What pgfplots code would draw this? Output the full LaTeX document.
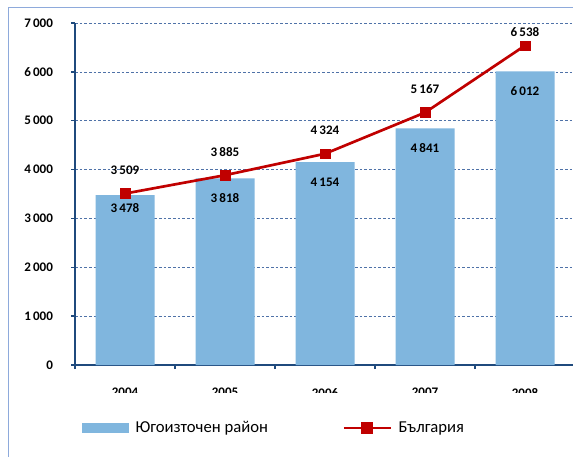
\documentclass[border=0pt]{standalone}
\usepackage{pgfplots}
\pgfplotsset{compat=1.18}
\usepackage{fontspec}
\setmainfont{Carlito}
\definecolor{barblue}{HTML}{80B6DE}
\definecolor{axisblue}{HTML}{1F4A7D}
\definecolor{gridblue}{HTML}{4F72A8}
\definecolor{linered}{HTML}{C00000}
\definecolor{frameblue}{HTML}{8EAADB}
\pgfplotstableread{
x y s
0 3478 -9.75
1 3818 -15
2 4154 -15
3 4841 -15
4 6012 -15
}\barsdata
\pgfplotstableread{
x y s
0 3509 17.25
1 3885 17.25
2 4324 17.25
3 5167 17.25
4 6538 10
}\linedata
\begin{document}
\begin{tikzpicture}
\begin{axis}[
  at={(0pt,0pt)}, anchor=south west,
  scale only axis, width=375pt, height=256.5pt,
  xmin=-0.5, xmax=4.5, ymin=0, ymax=7000,
  axis x line*=bottom, axis y line*=left,
  axis line style={line width=2.2pt, axisblue},
  ytick={0,1000,...,7000},
  xtick={-0.5,0.5,1.5,2.5,3.5,4.5}, xticklabels={},
  extra x ticks={0,1,2,3,4},
  extra x tick labels={2004,2005,2006,2007,2008},
  extra x tick style={major tick length=0pt},
  tick align=outside, major tick length=3pt,
  tick style={axisblue, line width=1pt},
  ymajorgrids,
  grid style={gridblue, line width=0.5pt, dash pattern=on 2pt off 1.5pt},
  /pgf/number format/assume math mode=true,
  /pgf/number format/1000 sep={\,},
  tick label style={font=\fontsize{9.8}{11}\selectfont\bfseries},
  yticklabel style={xshift=-10pt},
  xticklabel style={yshift=-14pt},
  clip=false,
  legend style={at={(0.014,-0.184)}, anchor=west, draw=none, fill=none,
    inner sep=0pt, legend columns=2,
    font=\fontsize{12.5}{14}\selectfont,
    column sep=3pt,
    /tikz/every even column/.append style={column sep=54pt},
    cells={anchor=west}},
]
\addplot[ybar, bar width=44.25pt, fill=barblue, draw=none,
  nodes near coords, point meta=explicit,
  visualization depends on={\thisrow{s}\as\sh},
  every node near coord/.append style={anchor=center, yshift=\sh pt,
    text=black, font=\fontsize{9.8}{11}\selectfont\bfseries},
  legend image code/.code={\fill[barblue] (0pt,-4pt) rectangle (35pt,4pt);}]
  table[x=x, y=y, meta=y] {\barsdata};
\addlegendentry{Югоизточен район}
\addplot[linered, line width=2pt, mark=square*, mark size=3.6pt,
  mark options={solid, fill=linered, line width=0.4pt},
  nodes near coords, point meta=explicit,
  visualization depends on={\thisrow{s}\as\sh},
  every node near coord/.append style={anchor=center, yshift=\sh pt,
    text=black, font=\fontsize{9.8}{11}\selectfont\bfseries},
  legend image code/.code={\draw[linered, line width=2pt] (0pt,0pt) -- (35pt,0pt);
    \fill[linered] (13.9pt,-3.6pt) rectangle (21.1pt,3.6pt);}]
  table[x=x, y=y, meta=y] {\linedata};
\addlegendentry{България}
\end{axis}
\fill[white] (-41pt,-21pt) rectangle (380pt,-38pt);
\draw[frameblue, line width=0.75pt] (-49.5pt,-80pt) -- (-49.5pt,267.75pt) -- (400pt,267.75pt);
\pgfresetboundingbox
\useasboundingbox (-56.25pt,-68.25pt) rectangle (373.5pt,273.75pt);
\end{tikzpicture}
\end{document}
